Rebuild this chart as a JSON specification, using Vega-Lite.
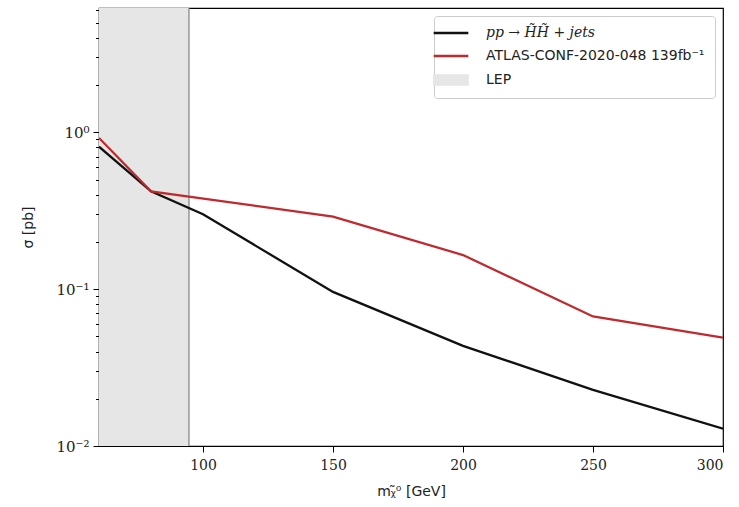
{
  "$schema": "https://vega.github.io/schema/vega-lite/v6.json",
  "width": 624,
  "height": 438,
  "autosize": {"type": "none"},
  "padding": {"left": 99, "top": 8, "right": 16, "bottom": 61},
  "background": "white",
  "config": {
    "view": {"stroke": "black", "strokeWidth": 1.2},
    "axis": {"domainColor": "black", "tickColor": "black", "grid": false, "labelColor": "#222", "titleColor": "#222", "titleFontWeight": "normal"}
  },
  "datasets": {
    "lines": [
      {"m": 60, "sigma": 0.81, "series": "pp → H̃H̃ + jets"},
      {"m": 80, "sigma": 0.42, "series": "pp → H̃H̃ + jets"},
      {"m": 100, "sigma": 0.30, "series": "pp → H̃H̃ + jets"},
      {"m": 150, "sigma": 0.096, "series": "pp → H̃H̃ + jets"},
      {"m": 200, "sigma": 0.0435, "series": "pp → H̃H̃ + jets"},
      {"m": 250, "sigma": 0.0228, "series": "pp → H̃H̃ + jets"},
      {"m": 300, "sigma": 0.0129, "series": "pp → H̃H̃ + jets"},
      {"m": 60, "sigma": 0.92, "series": "ATLAS-CONF-2020-048 139fb⁻¹"},
      {"m": 80, "sigma": 0.42, "series": "ATLAS-CONF-2020-048 139fb⁻¹"},
      {"m": 150, "sigma": 0.29, "series": "ATLAS-CONF-2020-048 139fb⁻¹"},
      {"m": 200, "sigma": 0.165, "series": "ATLAS-CONF-2020-048 139fb⁻¹"},
      {"m": 250, "sigma": 0.067, "series": "ATLAS-CONF-2020-048 139fb⁻¹"},
      {"m": 300, "sigma": 0.049, "series": "ATLAS-CONF-2020-048 139fb⁻¹"}
    ],
    "lep": [{"m": 60, "m2": 94.6, "series": "LEP"}]
  },
  "layer": [
    {
      "data": {"name": "lep"},
      "mark": {"type": "rect", "opacity": 1},
      "encoding": {
        "x": {"field": "m", "type": "quantitative"},
        "x2": {"field": "m2"},
        "color": {"field": "series", "type": "nominal"}
      }
    },
    {
      "data": {"name": "lep"},
      "mark": {"type": "rule", "color": "#888", "strokeWidth": 1.3},
      "encoding": {
        "x": {"field": "m2", "type": "quantitative"}
      }
    },
    {
      "data": {"name": "lines"},
      "mark": {"type": "line", "strokeWidth": 2.3, "clip": true},
      "encoding": {
        "x": {
          "field": "m", "type": "quantitative",
          "scale": {"domain": [60, 300], "nice": false, "zero": false},
          "axis": {
            "values": [100, 150, 200, 250, 300],
            "title": "mᵪ̃⁰ [GeV]",
            "titleFont": "DejaVu Sans", "titleFontSize": 14, "titlePadding": 12,
            "labelFont": "DejaVu Serif", "labelFontSize": 14, "labelPadding": 6,
            "tickSize": 6, "tickWidth": 1
          }
        },
        "y": {
          "field": "sigma", "type": "quantitative",
          "scale": {"type": "log", "domain": [0.01, 6.2], "nice": false},
          "axis": {
            "values": [0.01, 0.02, 0.03, 0.04, 0.05, 0.06, 0.07, 0.08, 0.09, 0.1, 0.2, 0.3, 0.4, 0.5, 0.6, 0.7, 0.8, 0.9, 1, 2, 3, 4, 5, 6],
            "labelExpr": "datum.value == 1 ? '10⁰' : datum.value == 0.1 ? '10⁻¹' : datum.value == 0.01 ? '10⁻²' : ''",
            "tickSize": {"condition": {"test": "datum.value == 1 || datum.value == 0.1 || datum.value == 0.01", "value": 6}, "value": 3.5},
            "tickWidth": 1,
            "title": "σ [pb]",
            "titleFont": "DejaVu Sans", "titleFontSize": 14, "titlePadding": 20,
            "labelFont": "DejaVu Serif", "labelFontSize": 15, "labelPadding": 4,
            "labelBound": false, "labelOverlap": false
          }
        },
        "color": {
          "field": "series", "type": "nominal",
          "scale": {
            "domain": ["pp → H̃H̃ + jets", "ATLAS-CONF-2020-048 139fb⁻¹", "LEP"],
            "range": ["#111111", "#c0292d", "#e6e6e6"]
          },
          "legend": {
            "title": null,
            "orient": "top-right",
            "offset": 8,
            "padding": 10,
            "rowPadding": 9,
            "strokeColor": "#cccccc",
            "fillColor": "white",
            "cornerRadius": 3,
            "symbolType": "stroke",
            "symbolSize": 1200,
            "symbolStrokeWidth": 2.3,
            "labelFont": "DejaVu Sans",
            "labelFontSize": 14,
            "labelColor": "#222",
            "labelOffset": 28,
            "labelLimit": 400,
            "encode": {
              "symbols": {
                "update": {
                  "shape": {"signal": "datum.value === 'LEP' ? 'M-1,-0.3H1V0.3H-1Z' : 'stroke'"},
                  "fill": {"signal": "datum.value === 'LEP' ? '#e6e6e6' : 'transparent'"},
                  "stroke": {"signal": "datum.value === 'LEP' ? '#666666' : (indexof(datum.value, 'ATLAS') >= 0 ? '#c0292d' : '#111111')"},
                  "strokeWidth": {"signal": "datum.value === 'LEP' ? 1.2 : 2.3"},
                  "strokeOpacity": {"value": 1},
                  "fillOpacity": {"value": 1},
                  "opacity": {"value": 1}
                }
              },
              "labels": {
                "update": {
                  "fontStyle": {"signal": "indexof(datum.value, 'pp') == 0 ? 'italic' : 'normal'"},
                  "font": {"signal": "indexof(datum.value, 'pp') == 0 ? 'DejaVu Serif' : 'DejaVu Sans'"}
                }
              }
            }
          }
        }
      }
    }
  ]
}
